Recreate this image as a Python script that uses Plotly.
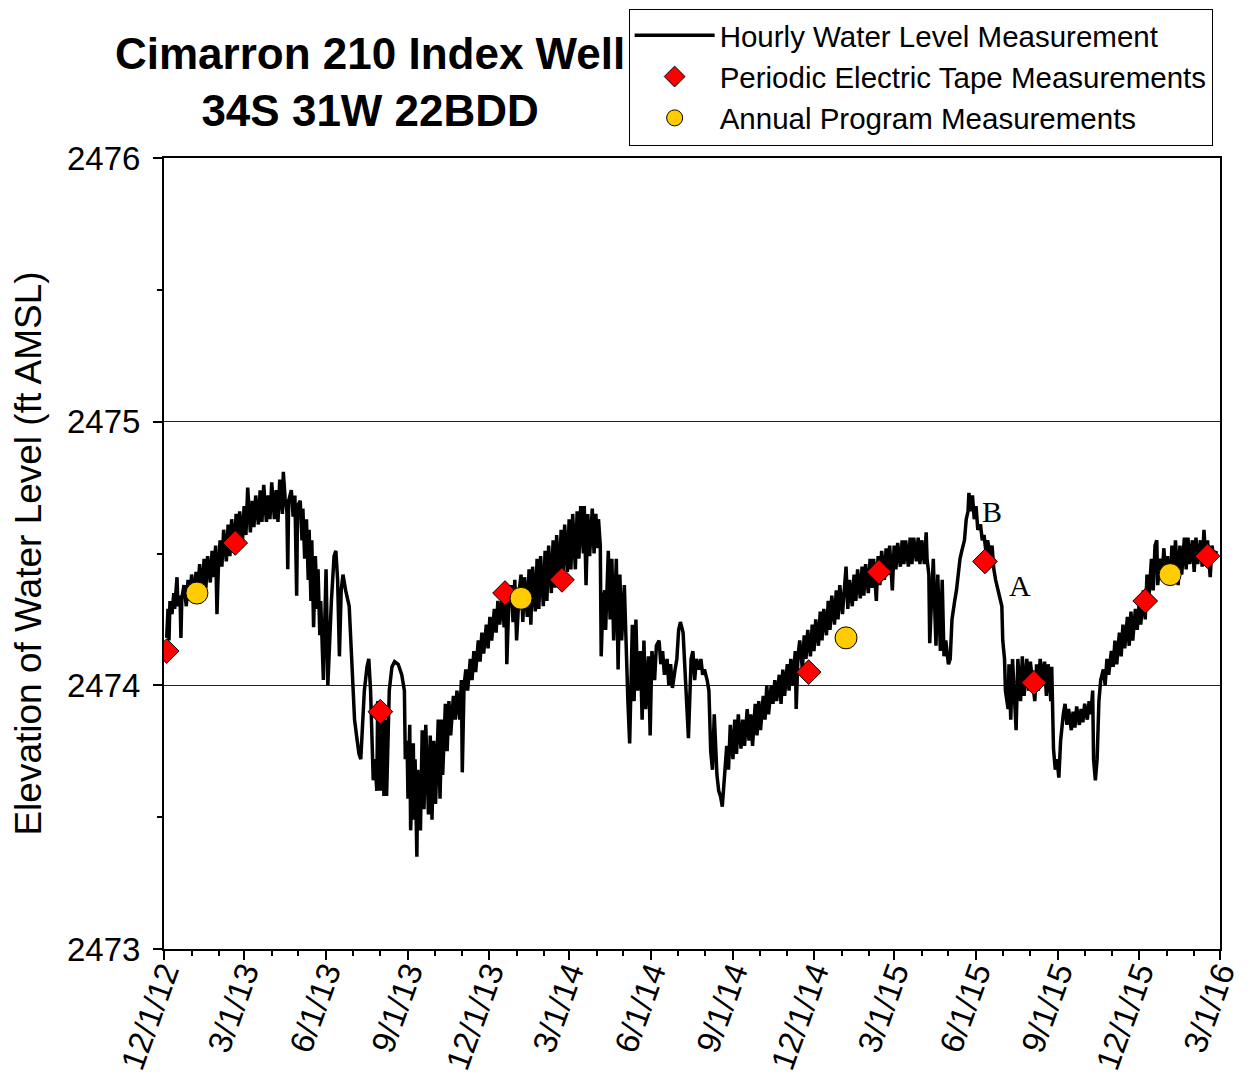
import pandas as pd
import plotly.graph_objects as go

START = "2012-12-01"

# Hourly record: days after 12/1/12 and elevation (ft AMSL)
hourly_day = [
    3, 4.5, 5.6, 6.7, 9, 11, 12, 14.6, 15.7, 18, 19, 20, 22.5, 25, 27, 29, 31, 34, 36, 38,
    40, 43, 45, 47, 49, 52, 54, 56, 58, 59.5, 61, 63, 65, 67, 70, 72, 74, 76, 79, 81,
    83, 85, 88, 90, 92, 94, 97, 99, 101, 103, 106, 108, 110, 112, 115, 117, 119, 121, 124, 126,
    128, 130, 133, 134, 136, 138, 139, 140, 143, 145, 147, 149, 150,
    153, 155, 156, 158, 160, 162, 163, 165, 166, 168, 170, 172, 173, 175, 176, 179, 181, 182,
    183, 184, 188, 191, 193, 195, 197, 199, 201, 204, 208, 210, 212, 214, 217, 219, 221, 225,
    228, 230, 232, 235, 237, 239, 240, 243, 245, 247, 249, 250, 253, 256, 259, 263, 267, 270,
    271, 273, 274, 276, 277, 280, 281, 282, 284, 285, 288,
    290, 292, 294, 297, 299, 301, 303, 305, 308, 310, 312, 313, 316, 318, 320, 322, 325, 327,
    329, 332, 334, 335, 337, 339, 341, 344, 346, 348, 350, 353, 355, 357, 359, 362, 364, 366,
    368, 371, 373, 375, 377,
    380, 382, 384, 385, 387, 390, 392, 394, 396, 399, 401, 403, 405, 408, 410, 412, 414, 417,
    419, 421, 423, 426, 428, 430, 432, 435, 437, 439, 441, 444, 446, 448, 450, 453, 455, 457,
    459, 462, 464, 466, 468, 471, 472, 474, 476, 478, 481, 483, 485, 487, 488,
    490, 491, 493, 495, 496, 499, 501, 503, 505, 508, 510, 512, 514, 517, 519, 521, 523, 526,
    528, 530, 532, 535, 537, 539, 541, 544, 546, 548, 551, 553, 556, 558, 560, 562, 565, 567,
    569, 571, 574, 576, 578, 580, 583, 585, 587, 589, 592, 594, 596, 598, 601, 603, 605, 607,
    610, 612, 614, 616, 618, 621, 623, 625, 627, 629,
    632, 634, 636, 639, 641, 643, 645, 648, 650, 652, 655, 657, 659, 661, 664, 666, 668, 670,
    673, 675, 677, 679, 682, 684, 686, 688, 691, 693, 695, 697, 700, 702, 704, 706, 709, 710,
    712, 714,
    717, 719, 721, 723, 726, 728, 730, 732, 735, 737, 739, 741, 744, 746, 748, 750, 753, 755,
    757, 759, 762, 764, 766, 768, 770, 773, 775, 777, 779, 782, 784, 786, 788, 791, 793, 795,
    797, 800, 802, 804, 806, 809, 811, 813, 815, 818, 820, 822, 824, 827, 829, 831, 833, 836,
    838, 840, 842, 845, 847, 849, 851, 854, 856, 857,
    859, 860, 863, 864, 866, 867, 869, 872, 874, 876, 878, 881, 883, 885, 888, 890, 892, 894,
    896, 899, 901, 903, 904, 906, 908, 910, 912, 914, 917, 919, 921, 923, 925, 928, 930, 932,
    934, 937, 939, 941, 942, 944, 945,
    948, 949, 951, 953, 956, 957, 959, 962, 964, 966, 969, 971, 973, 975, 978, 980, 982, 984,
    987, 989, 991, 993, 996, 997, 999, 1001, 1003, 1005, 1007, 1010, 1012, 1014, 1016, 1019,
    1021, 1023, 1025, 1028, 1030, 1032, 1034, 1037, 1039, 1041, 1043, 1044, 1046, 1048, 1050, 1052,
    1055, 1057, 1059, 1061, 1064, 1066, 1068, 1070, 1073, 1075, 1077, 1079, 1082, 1084, 1086, 1088,
    1091, 1093, 1095, 1097, 1100, 1102, 1104, 1106, 1109, 1111, 1113, 1115, 1116, 1119, 1121, 1123,
    1125, 1127, 1130, 1132, 1134, 1136, 1139, 1141, 1143, 1146, 1148, 1150, 1152, 1155, 1157, 1159,
    1161, 1164, 1166, 1168, 1170, 1172, 1175, 1177, 1179, 1182,
]
hourly_level = [
    2474.18, 2474.29, 2474.17, 2474.32, 2474.27, 2474.35, 2474.29, 2474.41, 2474.30, 2474.34,
    2474.18, 2474.33, 2474.38, 2474.30, 2474.40, 2474.32, 2474.42, 2474.34, 2474.43, 2474.36,
    2474.46, 2474.35, 2474.48, 2474.37, 2474.49, 2474.39, 2474.51, 2474.41, 2474.53, 2474.27,
    2474.44, 2474.55, 2474.45, 2474.59, 2474.47, 2474.61, 2474.49, 2474.63, 2474.51, 2474.65,
    2474.53, 2474.66, 2474.54, 2474.68, 2474.57, 2474.75, 2474.58, 2474.70, 2474.60, 2474.72,
    2474.61, 2474.74, 2474.62, 2474.76, 2474.62, 2474.72, 2474.63, 2474.77, 2474.63, 2474.74,
    2474.62, 2474.78, 2474.65, 2474.81, 2474.71, 2474.66, 2474.44, 2474.70, 2474.74, 2474.64,
    2474.72, 2474.34, 2474.68,
    2474.70, 2474.55, 2474.67, 2474.48, 2474.63, 2474.40, 2474.59, 2474.32, 2474.55, 2474.22,
    2474.49, 2474.29, 2474.44, 2474.19, 2474.32, 2474.02, 2474.30, 2474.44,
    2474.25, 2474.00, 2474.32, 2474.49, 2474.51, 2474.40, 2474.11, 2474.36, 2474.42, 2474.36,
    2474.30, 2474.13, 2473.96, 2473.87, 2473.79, 2473.74, 2473.72, 2473.98,
    2474.07, 2474.10, 2473.98, 2473.64, 2473.72, 2473.60, 2473.94, 2473.60, 2473.87, 2473.58,
    2473.87, 2473.58, 2473.98, 2474.07, 2474.09, 2474.08, 2474.04, 2473.98,
    2473.72, 2473.79, 2473.57, 2473.85, 2473.45, 2473.78, 2473.49, 2473.72, 2473.35, 2473.68,
    2473.45,
    2473.83, 2473.53, 2473.85, 2473.51, 2473.81, 2473.49, 2473.79, 2473.55, 2473.87, 2473.57,
    2473.87, 2473.66, 2473.93, 2473.75, 2473.94, 2473.81, 2473.96, 2473.87,
    2473.98, 2473.87, 2474.02, 2473.67, 2474.00, 2474.06, 2473.98, 2474.10, 2474.02, 2474.13,
    2474.05, 2474.17, 2474.09, 2474.20, 2474.12, 2474.23, 2474.14, 2474.26,
    2474.17, 2474.29, 2474.20, 2474.32, 2474.23,
    2474.34, 2474.22, 2474.36, 2474.08, 2474.29, 2474.38, 2474.24, 2474.40, 2474.17, 2474.36,
    2474.42, 2474.24, 2474.41, 2474.26, 2474.44, 2474.23, 2474.45, 2474.28,
    2474.48, 2474.29, 2474.49, 2474.30, 2474.51, 2474.32, 2474.53, 2474.35, 2474.55, 2474.37,
    2474.57, 2474.39, 2474.59, 2474.40, 2474.61, 2474.43, 2474.63, 2474.44,
    2474.65, 2474.44, 2474.66, 2474.48, 2474.68, 2474.50, 2474.68, 2474.38, 2474.65, 2474.49,
    2474.67, 2474.50, 2474.65, 2474.52, 2474.63,
    2474.53, 2474.11, 2474.32, 2474.36, 2474.21, 2474.51, 2474.25, 2474.48, 2474.17, 2474.48,
    2474.06, 2474.42, 2474.17, 2474.38, 2474.13, 2473.94, 2473.78, 2474.23,
    2473.94, 2474.25, 2473.98, 2474.13, 2473.87, 2474.17, 2473.91, 2474.11, 2473.81, 2474.13,
    2474.02, 2474.15, 2474.17, 2474.08, 2474.13, 2474.04, 2474.10, 2474.00,
    2474.08, 2473.99, 2474.06, 2474.10, 2474.21, 2474.24, 2474.20, 2474.06, 2473.94, 2473.80,
    2474.10, 2474.13, 2474.02, 2474.10, 2474.06, 2474.10, 2474.04, 2474.06,
    2474.02, 2473.98, 2473.75, 2473.68, 2473.89, 2473.66, 2473.60, 2473.58, 2473.54, 2473.64,
    2473.77, 2473.68, 2473.85, 2473.72, 2473.87, 2473.74, 2473.89, 2473.76, 2473.87, 2473.77,
    2473.91, 2473.79, 2473.89, 2473.77, 2473.93, 2473.81, 2473.94, 2473.83,
    2473.96, 2473.87, 2474.00, 2473.89, 2474.00, 2473.93, 2474.02, 2473.94, 2474.04, 2473.93,
    2474.06, 2473.96, 2474.08, 2473.98, 2474.10, 2474.00, 2474.13, 2473.91,
    2474.11, 2474.17,
    2474.06, 2474.19, 2474.10, 2474.21, 2474.11, 2474.23, 2474.13, 2474.25, 2474.15, 2474.28,
    2474.17, 2474.29, 2474.19, 2474.32, 2474.21, 2474.34, 2474.23, 2474.36,
    2474.25, 2474.38, 2474.27, 2474.36, 2474.45, 2474.29, 2474.40, 2474.30, 2474.42, 2474.32,
    2474.44, 2474.33, 2474.45, 2474.34, 2474.46, 2474.35, 2474.48, 2474.37,
    2474.48, 2474.32, 2474.49, 2474.38, 2474.51, 2474.40, 2474.52, 2474.42, 2474.53, 2474.36,
    2474.53, 2474.44, 2474.54, 2474.45, 2474.55, 2474.46, 2474.55, 2474.45,
    2474.56, 2474.46, 2474.56, 2474.47, 2474.56, 2474.46, 2474.55, 2474.46, 2474.58, 2474.48,
    2474.42, 2474.16, 2474.36, 2474.48, 2474.25, 2474.15, 2474.42, 2474.13, 2474.40, 2474.11,
    2474.17, 2474.08, 2474.10, 2474.25, 2474.32, 2474.36, 2474.42, 2474.48,
    2474.51, 2474.55, 2474.63, 2474.66, 2474.73, 2474.66, 2474.72, 2474.63, 2474.68, 2474.59,
    2474.61, 2474.55, 2474.57, 2474.51, 2474.55, 2474.49, 2474.53, 2474.44,
    2474.40, 2474.36, 2474.34, 2474.30, 2474.17, 2474.10, 2473.98,
    2473.91, 2474.08, 2473.87, 2474.10, 2473.93, 2473.83, 2474.10, 2473.94, 2474.11, 2473.96,
    2474.10, 2473.98, 2474.09, 2474.02, 2473.94, 2474.08, 2473.98, 2474.10,
    2474.02, 2474.09, 2473.96, 2474.08, 2473.94, 2474.07, 2473.76, 2473.68, 2473.72, 2473.65,
    2473.79, 2473.89, 2473.93, 2473.85, 2473.91, 2473.83,
    2473.90, 2473.84, 2473.92, 2473.85, 2473.91, 2473.86, 2473.93, 2473.87, 2473.94, 2473.89,
    2473.98, 2473.72, 2473.64, 2473.72, 2473.94, 2474.02,
    2474.06, 2474.00, 2474.10, 2474.04, 2474.13, 2474.07, 2474.17, 2474.08, 2474.20, 2474.11,
    2474.23, 2474.14, 2474.26, 2474.15, 2474.28, 2474.17,
    2474.29, 2474.21, 2474.30, 2474.23, 2474.36, 2474.25, 2474.42, 2474.32, 2474.48, 2474.36,
    2474.53, 2474.55, 2474.38, 2474.48, 2474.42, 2474.52,
    2474.40, 2474.49, 2474.38, 2474.53, 2474.42, 2474.55, 2474.38, 2474.53, 2474.42, 2474.56,
    2474.44, 2474.56, 2474.46, 2474.55, 2474.43, 2474.56,
    2474.46, 2474.55, 2474.45, 2474.59, 2474.48, 2474.55, 2474.41, 2474.53, 2474.48, 2474.51,
]

# Periodic electric tape measurements
tape_dates = ["2012-12-04", "2013-02-19", "2013-08-01", "2013-12-19", "2014-02-21",
              "2014-11-25", "2015-02-12", "2015-06-11", "2015-08-05", "2015-12-08", "2016-02-16"]
tape_levels = [2474.13, 2474.54, 2473.90, 2474.35, 2474.40,
               2474.05, 2474.43, 2474.47, 2474.01, 2474.32, 2474.49]

# Annual program measurements
annual_dates = ["2013-01-07", "2014-01-06", "2015-01-06", "2016-01-05"]
annual_levels = [2474.35, 2474.33, 2474.18, 2474.42]

# Axis ticks
x_tick_dates = ["2012-12-01", "2013-03-01", "2013-06-01", "2013-09-01", "2013-12-01",
                "2014-03-01", "2014-06-01", "2014-09-01", "2014-12-01", "2015-03-01",
                "2015-06-01", "2015-09-01", "2015-12-01", "2016-03-01"]
x_tick_labels = ["12/1/12", "3/1/13", "6/1/13", "9/1/13", "12/1/13", "3/1/14", "6/1/14",
                 "9/1/14", "12/1/14", "3/1/15", "6/1/15", "9/1/15", "12/1/15", "3/1/16"]
y_ticks = [2473, 2474, 2475, 2476]

# Point labels
label_text = ["B", "A"]
label_dates = ["2015-06-19", "2015-07-20"]
label_levels = [2474.66, 2474.38]

hourly_dates = pd.Timestamp(START) + pd.to_timedelta(hourly_day, unit="D")

fig = go.Figure()
fig.add_trace(go.Scatter(
    x=hourly_dates, y=hourly_level, mode="lines",
    line=dict(color="black", width=3.5),
    name="Hourly Water Level Measurement"))
fig.add_trace(go.Scatter(
    x=tape_dates, y=tape_levels, mode="markers",
    marker=dict(symbol="diamond", size=19, color="#FF0000",
                line=dict(color="black", width=1)),
    name="Periodic Electric Tape Measurements"))
fig.add_trace(go.Scatter(
    x=annual_dates, y=annual_levels, mode="markers",
    marker=dict(symbol="circle", size=22, color="#FFCC00",
                line=dict(color="black", width=1)),
    name="Annual Program Measurements"))

for t, d, v in zip(label_text, label_dates, label_levels):
    fig.add_annotation(x=d, y=v, text=t, showarrow=False,
                       font=dict(family="Liberation Serif", size=30, color="black"))

fig.add_annotation(xref="paper", yref="paper", x=0.195, y=1.096,
                   xanchor="center", yanchor="middle",
                   text="<b>Cimarron 210 Index Well<br>34S 31W 22BDD</b>",
                   showarrow=False, align="center",
                   font=dict(family="Liberation Sans, Arial", size=44, color="black"))

fig.update_layout(
    width=1237, height=1066,
    margin=dict(l=156, r=25, t=150, b=125, autoexpand=False),
    paper_bgcolor="white", plot_bgcolor="white",
    font=dict(family="Liberation Sans, Arial", color="black"),
    showlegend=True,
    legend=dict(x=0.44, y=1.189, xanchor="left", yanchor="top",
                bordercolor="black", borderwidth=1, bgcolor="white",
                font=dict(size=29.5, color="black"), tracegroupgap=0,
                itemwidth=80),
)
fig.update_xaxes(
    type="date", range=["2012-12-01", "2016-03-01"], automargin=False,
    tickmode="array", tickvals=x_tick_dates, ticktext=x_tick_labels,
    tickangle=-70, tickfont=dict(size=33, color="black"),
    ticks="outside", ticklen=9, tickwidth=2, tickcolor="black",
    ticklabelstandoff=-20,
    showline=True, linecolor="black", linewidth=2, mirror=True,
    showgrid=False, zeroline=False,
    minor=dict(tickmode="linear", tick0="2012-12-01", dtick="M1",
               ticks="outside", ticklen=5, tickwidth=2, tickcolor="black", showgrid=False),
)
fig.update_yaxes(
    range=[2473, 2476], tickmode="array", tickvals=y_ticks, automargin=False,
    tickfont=dict(size=33, color="black"),
    ticks="outside", ticklen=9, tickwidth=2, tickcolor="black",
    showline=True, linecolor="black", linewidth=2, mirror=True,
    showgrid=True, gridcolor="#222222", gridwidth=1, zeroline=False,
    ticklabelstandoff=6,
    title=dict(text="Elevation of Water Level (ft AMSL)", font=dict(size=37, color="black"),
               standoff=16),
    minor=dict(tickmode="linear", tick0=2473, dtick=0.5,
               ticks="outside", ticklen=5, tickwidth=2, tickcolor="black", showgrid=False),
)

fig.write_html("out.html")
